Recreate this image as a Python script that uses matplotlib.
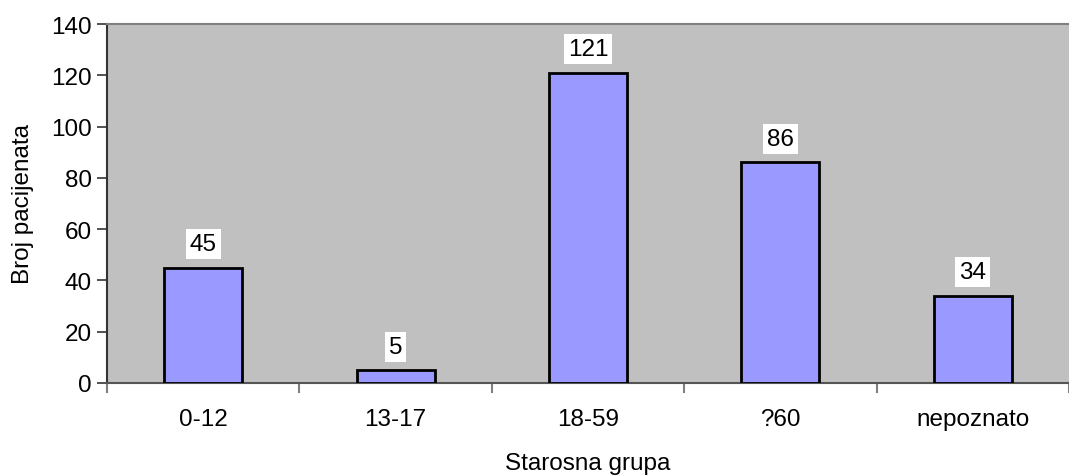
import numpy as np
from matplotlib import pyplot as plt

plt.rcParams['font.family'] = ['Liberation Sans', 'DejaVu Sans']

groups = ['0-12', '13-17', '18-59', '?60', 'nepoznato']
patients = [45, 5, 121, 86, 34]
y_ticks = [0, 20, 40, 60, 80, 100, 120, 140]

fig = plt.figure(figsize=(10.69, 4.77), dpi=100)
ax = fig.add_axes([107 / 1069, 1 - 384 / 477, (1069 - 107) / 1069, (384 - 25) / 477])
ax.set_facecolor('#C0C0C0')

x = np.arange(len(groups))
ax.bar(x, patients, width=0.405, color='#9999FF', edgecolor='black', linewidth=2, zorder=3)

for xi, v in zip(x, patients):
    ax.annotate(str(v), (xi, v), xytext=(0, 9), textcoords='offset points',
                ha='center', va='bottom', fontsize=17.5,
                bbox=dict(facecolor='white', edgecolor='none', pad=3), zorder=4)

ax.set_xlim(-0.5, len(groups) - 0.5)
ax.set_ylim(0, 140)
ax.set_yticks(y_ticks)
ax.set_xticks(x)
ax.set_xticklabels(groups)
ax.set_xticks(np.arange(len(groups) + 1) - 0.5, minor=True)
ax.tick_params(axis='x', which='major', length=0, labelsize=17.5, pad=18)
ax.tick_params(axis='x', which='minor', length=7, color='#808080', width=1.5)
ax.tick_params(axis='y', length=7, color='#333333', labelsize=17.5, width=1.2, pad=4)

ax.spines['left'].set_color('#333333')
ax.spines['left'].set_linewidth(1.5)
ax.spines['bottom'].set_color('#555555')
ax.spines['bottom'].set_linewidth(1.5)
ax.spines['top'].set_color('#808080')
ax.spines['top'].set_linewidth(1.5)
ax.spines['right'].set_visible(False)

ax.set_xlabel('Starosna grupa', fontsize=17.5, labelpad=16)
ax.set_ylabel('Broj pacijenata', fontsize=17.5, labelpad=12)

fig.savefig('out.png', dpi=100)
